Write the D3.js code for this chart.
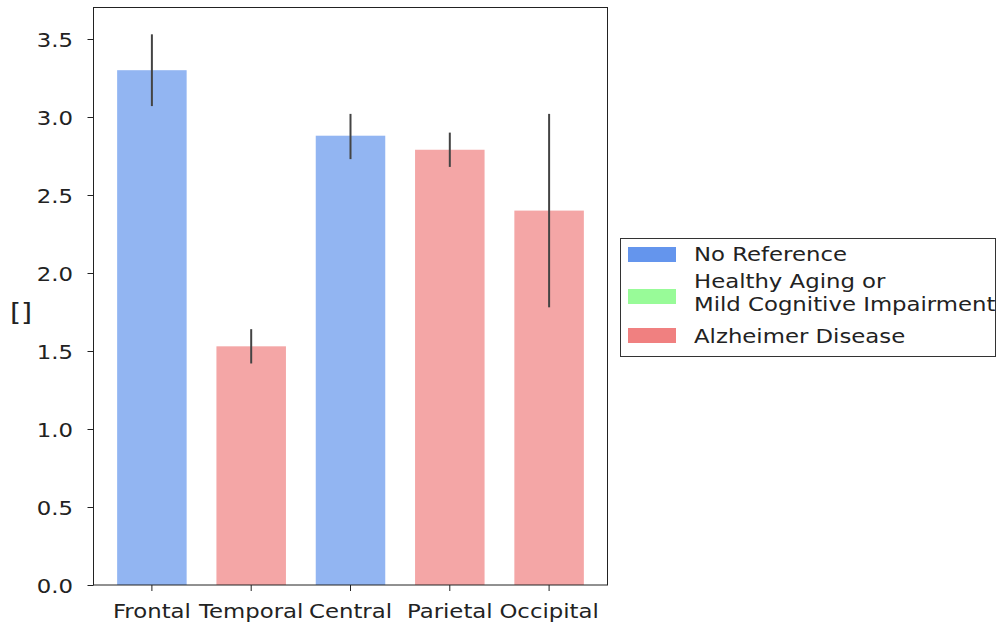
<!DOCTYPE html>
<html>
<head>
<meta charset="utf-8">
<script src="https://cdn.jsdelivr.net/npm/d3@7"></script>
<style>
  html, body { margin: 0; padding: 0; background: #fff; }
  svg { display: block; font-family: "DejaVu Sans", sans-serif; }
</style>
</head>
<body>
<svg id="chart" width="996" height="627"></svg>
<script>
const categories = ["Frontal", "Temporal", "Central", "Parietal", "Occipital"];
const barGroup = ["No Reference", "Alzheimer Disease", "No Reference", "Alzheimer Disease", "Alzheimer Disease"];
const means = [3.30, 1.53, 2.88, 2.79, 2.40];
const errLow = [3.07, 1.42, 2.73, 2.68, 1.78];
const errHigh = [3.53, 1.64, 3.02, 2.90, 3.02];
const yTicks = [0, 0.5, 1.0, 1.5, 2.0, 2.5, 3.0, 3.5];
const legendGroups = ["No Reference", "Healthy Aging or\nMild Cognitive Impairment", "Alzheimer Disease"];
const legendColors = ["#6495ED", "#98FB98", "#F08080"];
const yLabel = "[]";

const colorOf = { "No Reference": "#6495ED", "Healthy Aging or\nMild Cognitive Impairment": "#98FB98", "Alzheimer Disease": "#F08080" };

const svg = d3.select("#chart");
const L = 93.5, R = 607.5, T = 7.5, B = 585;
const SX = 1.14; // horizontal text stretch
const FS = 20;

const x = d3.scaleBand().domain(categories).range([L, R]).paddingInner(0.3).paddingOuter(0.238);
const y = d3.scaleLinear().domain([0, (B - T) / 156]).range([B, T]);

const data = categories.map((c, i) => ({ c, g: barGroup[i], m: means[i], lo: errLow[i], hi: errHigh[i] }));

// bars
svg.append("g").selectAll("rect").data(data).join("rect")
  .attr("x", d => x(d.c))
  .attr("width", x.bandwidth())
  .attr("y", d => y(d.m))
  .attr("height", d => y(0) - y(d.m))
  .attr("fill", d => colorOf[d.g])
  .attr("fill-opacity", 0.7);

// error bars
svg.append("g").selectAll("line").data(data).join("line")
  .attr("x1", d => x(d.c) + x.bandwidth() / 2)
  .attr("x2", d => x(d.c) + x.bandwidth() / 2)
  .attr("y1", d => y(d.lo))
  .attr("y2", d => y(d.hi))
  .attr("stroke", "#444")
  .attr("stroke-width", 2);

// frame
svg.append("rect").attr("x", L).attr("y", T).attr("width", R - L).attr("height", B - T)
  .attr("fill", "none").attr("stroke", "#222").attr("stroke-width", 1);

// y axis
const yAxis = svg.append("g").attr("transform", `translate(${L},0)`)
  .call(d3.axisLeft(y).tickValues(yTicks).tickFormat(d3.format(".1f")).tickSize(6).tickSizeOuter(0));
yAxis.select(".domain").remove();
yAxis.selectAll(".tick line").attr("stroke", "#222");
yAxis.selectAll(".tick text")
  .attr("font-size", FS).attr("fill", "#222").attr("font-family", "DejaVu Sans")
  .attr("x", -20.5 / SX).attr("dy", "0.36em")
  .attr("transform", `scale(${SX},1)`);

// x axis
const xAxis = svg.append("g").attr("transform", `translate(0,${B})`)
  .call(d3.axisBottom(x).tickSize(6).tickSizeOuter(0));
xAxis.select(".domain").remove();
xAxis.selectAll(".tick line").attr("stroke", "#222");
xAxis.selectAll(".tick text")
  .attr("font-size", FS).attr("fill", "#222").attr("font-family", "DejaVu Sans")
  .attr("y", 33).attr("dy", 0)
  .attr("transform", `scale(${SX},1)`);

// y label
svg.append("text").attr("transform", `translate(21,321) scale(${SX},1)`)
  .attr("text-anchor", "middle").attr("font-size", 25).attr("fill", "#222")
  .text(yLabel);

// legend
const lg = svg.append("g");
lg.append("rect").attr("x", 620.5).attr("y", 238.5).attr("width", 375).attr("height", 118)
  .attr("fill", "#fff").attr("stroke", "#333").attr("stroke-width", 1);
const patchY = [247, 289, 328];
const textLines = [[261], [288, 311], [343]];
legendGroups.forEach((g, i) => {
  lg.append("rect").attr("x", 628).attr("y", patchY[i]).attr("width", 48).attr("height", 15)
    .attr("fill", legendColors[i]);
  const lines = g.split("\n");
  lines.forEach((ln, j) => {
    lg.append("text").attr("transform", `translate(694,${textLines[i][j]}) scale(${SX},1)`)
      .attr("font-size", FS).attr("fill", "#222").text(ln);
  });
});
</script>
</body>
</html>
